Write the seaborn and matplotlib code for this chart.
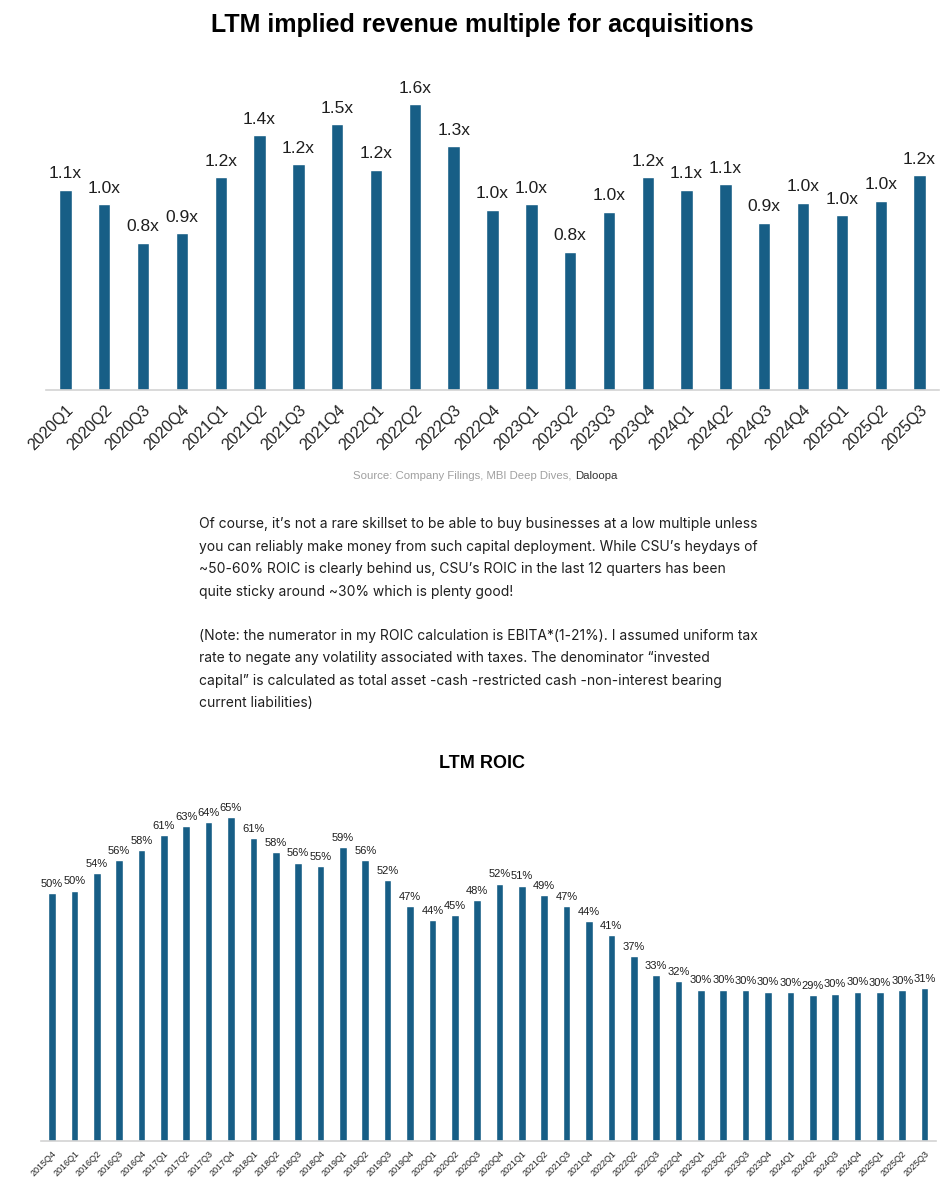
"""Two bar charts (LTM revenue multiple, LTM ROIC) with commentary text in between"""

import matplotlib
matplotlib.use("Agg")
import matplotlib.pyplot as plt
import seaborn as sns

# Data
mult_quarters = ['2020Q1', '2020Q2', '2020Q3', '2020Q4', '2021Q1', '2021Q2', '2021Q3', '2021Q4',
                 '2022Q1', '2022Q2', '2022Q3', '2022Q4', '2023Q1', '2023Q2', '2023Q3', '2023Q4',
                 '2024Q1', '2024Q2', '2024Q3', '2024Q4', '2025Q1', '2025Q2', '2025Q3']
mult_values = [1.10, 1.02, 0.81, 0.86, 1.17, 1.40, 1.24, 1.46,
               1.21, 1.57, 1.34, 0.99, 1.02, 0.76, 0.98, 1.17,
               1.10, 1.13, 0.92, 1.03, 0.96, 1.04, 1.18]

roic_quarters = ['2015Q4',
                 '2016Q1', '2016Q2', '2016Q3', '2016Q4', '2017Q1', '2017Q2', '2017Q3', '2017Q4',
                 '2018Q1', '2018Q2', '2018Q3', '2018Q4', '2019Q1', '2019Q2', '2019Q3', '2019Q4',
                 '2020Q1', '2020Q2', '2020Q3', '2020Q4', '2021Q1', '2021Q2', '2021Q3', '2021Q4',
                 '2022Q1', '2022Q2', '2022Q3', '2022Q4', '2023Q1', '2023Q2', '2023Q3', '2023Q4',
                 '2024Q1', '2024Q2', '2024Q3', '2024Q4', '2025Q1', '2025Q2', '2025Q3']
roic_values = [49.7, 50.3, 53.8, 56.4, 58.4, 61.4, 63.3, 64.1, 65.0,
               60.9, 58.0, 55.9, 55.2, 59.0, 56.4, 52.4, 47.2,
               44.3, 45.4, 48.4, 51.7, 51.3, 49.3, 47.1, 44.2,
               41.4, 37.1, 33.4, 32.1, 30.4, 30.4, 30.3, 30.0,
               29.9, 29.3, 29.6, 30.0, 29.9, 30.3, 30.7]

para1 = ["Of course, it\u2019s not a rare skillset to be able to buy businesses at a low multiple unless",
         "you can reliably make money from such capital deployment. While CSU\u2019s heydays of",
         "~50-60% ROIC is clearly behind us, CSU\u2019s ROIC in the last 12 quarters has been",
         "quite sticky around ~30% which is plenty good!"]
para2 = ["(Note: the numerator in my ROIC calculation is EBITA*(1-21%). I assumed uniform tax",
         "rate to negate any volatility associated with taxes. The denominator \u201cinvested",
         "capital\u201d is calculated as total asset -cash -restricted cash -non-interest bearing",
         "current liabilities)"]

BAR = '#175e86'
AXLINE = '#d3d3d3'

sns.set_style("white")
plt.rcParams['font.family'] = ['Liberation Sans', 'DejaVu Sans']

fig = plt.figure(figsize=(9.5, 12), dpi=100)
H = 1200.0
W = 950.0


def style_axis(ax):
    for s in ['top', 'right', 'left']:
        ax.spines[s].set_visible(False)
    ax.spines['bottom'].set_color(AXLINE)
    ax.spines['bottom'].set_linewidth(1.2)
    ax.set_yticks([])
    ax.set_xlabel('')
    ax.set_ylabel('')


# --- top chart
fig.text(482 / W, 1 - 25 / H, "LTM implied revenue multiple for acquisitions",
         ha='center', va='center', fontsize=18, fontweight='bold', color='black')

ax1 = fig.add_axes([46 / W, 1 - 390 / H, 893 / W, 327.6 / H])
sns.barplot(x=mult_quarters, y=mult_values, color=BAR, saturation=1, width=0.32, ax=ax1)
ax1.set_ylim(0, 1.8)
ax1.set_xlim(-0.5, len(mult_quarters) - 0.5)
style_axis(ax1)
ax1.bar_label(ax1.containers[0], labels=[f"{v:.1f}x" for v in mult_values],
              padding=6, fontsize=12.5, color='#1e1e1e')
ax1.tick_params(axis='x', length=0, pad=9, labelsize=11.5, labelcolor='#222222')
plt.setp(ax1.get_xticklabels(), rotation=45, ha='right', rotation_mode='anchor')

src_font = ['Liberation Sans Narrow', 'Liberation Sans']
fig.text(575 / W, 1 - 476 / H, "Source: Company Filings, MBI Deep Dives, ",
         ha='right', va='center', fontsize=8.2, color='#a0a0a0', family=src_font)
fig.text(575 / W, 1 - 476 / H, "Daloopa", ha='left', va='center', fontsize=8.2,
         color='#333333', family=src_font)

# --- commentary text
for i, line in enumerate(para1):
    fig.text(199 / W, 1 - (524 + i * 22.6) / H, line, ha='left', va='center',
             fontsize=10, color='#1f1f1f', family=['Inter', 'DejaVu Sans'])
for i, line in enumerate(para2):
    fig.text(199 / W, 1 - (636 + i * 22.4) / H, line, ha='left', va='center',
             fontsize=10, color='#1f1f1f', family=['Inter', 'DejaVu Sans'])

# --- bottom chart
fig.text(482 / W, 1 - 763 / H, "LTM ROIC", ha='center', va='center',
         fontsize=13, fontweight='bold', color='black')

ax2 = fig.add_axes([40.8 / W, 1 - 1141 / H, 895 / W, 348.6 / H])
sns.barplot(x=roic_quarters, y=roic_values, color=BAR, saturation=1, width=0.34, ax=ax2)
ax2.set_ylim(0, 70)
ax2.set_xlim(-0.5, len(roic_quarters) - 0.5)
style_axis(ax2)
ax2.bar_label(ax2.containers[0], labels=[f"{v:.0f}%" for v in roic_values],
              padding=3, fontsize=8, color='#1e1e1e')
ax2.tick_params(axis='x', length=0, pad=6, labelsize=6.5, labelcolor='#222222')
plt.setp(ax2.get_xticklabels(), rotation=45, ha='right', rotation_mode='anchor')

fig.savefig("out.png", dpi=100, facecolor='white')
